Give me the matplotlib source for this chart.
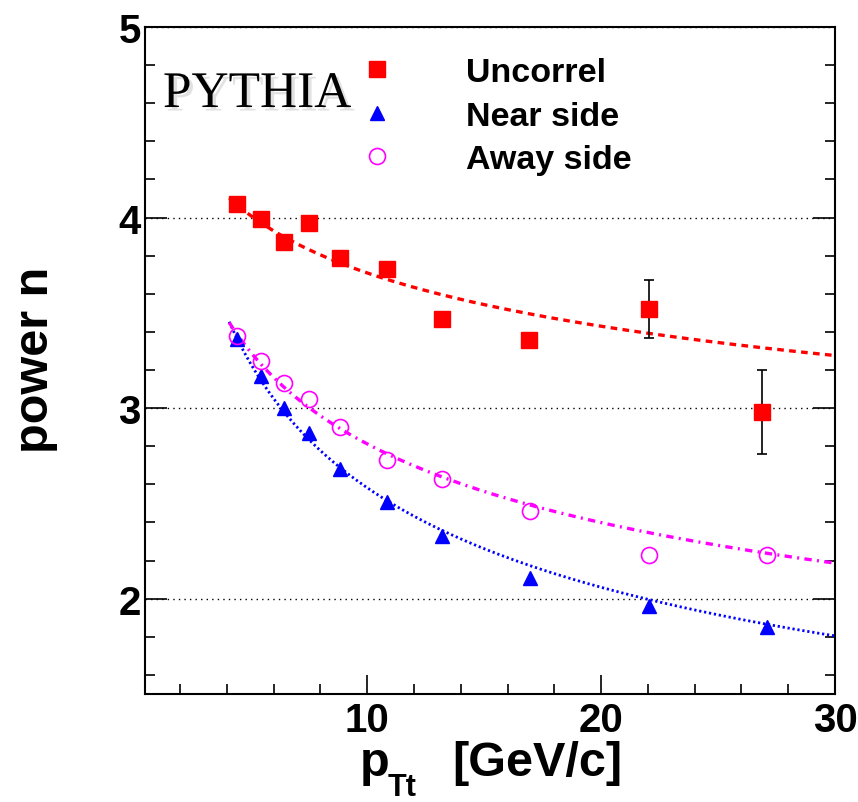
import matplotlib.pyplot as plt
import matplotlib.patheffects as pe
from matplotlib.ticker import MultipleLocator
import numpy as np

plt.rcParams['font.family'] = ['Liberation Sans', 'DejaVu Sans']
plt.rcParams['font.weight'] = 'bold'

# data
pt_uncorrel = [4.45, 5.45, 6.45, 7.5, 8.85, 10.85, 13.2, 16.9, 22.05, 26.9]
n_uncorrel = [4.07, 3.995, 3.87, 3.97, 3.79, 3.73, 3.47, 3.36, 3.52, 2.98]
err_uncorrel = [0, 0, 0, 0, 0, 0, 0, 0, 0.15, 0.22]

pt_near = [4.45, 5.45, 6.45, 7.5, 8.85, 10.85, 13.2, 16.95, 22.05, 27.1]
n_near = [3.365, 3.17, 3.0, 2.87, 2.68, 2.51, 2.33, 2.11, 1.96, 1.85]

pt_away = [4.45, 5.45, 6.45, 7.5, 8.85, 10.85, 13.2, 16.95, 22.05, 27.1]
n_away = [3.38, 3.25, 3.13, 3.05, 2.90, 2.73, 2.63, 2.46, 2.23, 2.23]

# fits n = A * pT^B
fit_uncorrel = (4.813, -0.1131)
fit_near = (5.47, -0.326)
fit_away = (4.765, -0.229)
fit_range = (4.1, 30.0)

fig = plt.figure(figsize=(8.58, 8.03), dpi=100)
ax = fig.add_axes([145 / 858, 1 - 695 / 803, 690 / 858, 667 / 803])

xf = np.linspace(fit_range[0], fit_range[1], 300)
ax.plot(xf, fit_uncorrel[0] * xf ** fit_uncorrel[1], color='#ff0000', lw=2.4,
        linestyle=(0, (2, 1.6)), zorder=2)
ax.plot(xf, fit_near[0] * xf ** fit_near[1], color='#0000ff', lw=2.0,
        linestyle=(0, (0.8, 1.0)), zorder=2)
ax.plot(xf, fit_away[0] * xf ** fit_away[1], color='#ff00ff', lw=2.4,
        linestyle=(0, (2.2, 1.6, 0.6, 1.6)), zorder=2)

err = np.array(err_uncorrel)
mask = err > 0
ax.errorbar(np.array(pt_uncorrel)[mask], np.array(n_uncorrel)[mask], yerr=err[mask],
            fmt='none', ecolor='black', elinewidth=1.2, capsize=3.3, capthick=1.2, zorder=3)

ax.plot(pt_uncorrel, n_uncorrel, 's', color='#ff0000', ms=11.5, mec='#ff0000',
        label='Uncorrel', zorder=4)
ax.plot(pt_near, n_near, '^', color='#0000ff', ms=10.5, label='Near side', zorder=4)
ax.plot(pt_away, n_away, 'o', mfc='none', mec='#ff00ff', mew=1.2, ms=11.5,
        label='Away side', zorder=5)

ax.set_xlim(0.5, 30)
ax.set_ylim(1.5, 5)
ax.set_xticks([10, 20, 30])
ax.set_yticks([2, 3, 4, 5])
ax.xaxis.set_minor_locator(MultipleLocator(2))
ax.yaxis.set_minor_locator(MultipleLocator(0.2))
ax.tick_params(which='both', direction='in', top=False, right=True, width=1.2,
               labelsize=29, colors='black')
ax.tick_params(axis='x', which='major', length=14, pad=5)
ax.tick_params(axis='y', which='major', length=16, pad=3)
ax.tick_params(which='minor', length=7)
for s in ax.spines.values():
    s.set_linewidth(1.5)

ax.yaxis.grid(True, which='major', linestyle=(0, (1, 3)), color='black', lw=1)
ax.set_axisbelow(True)

ax.legend(loc='upper left', bbox_to_anchor=(0.312, 0.955), frameon=False,
          borderpad=0, borderaxespad=0, handlelength=1.0, handletextpad=2.1,
          labelspacing=0.37, fontsize=24.5, numpoints=1)

ax.text(0.026, 0.88, 'PYTHIA', transform=ax.transAxes, fontsize=37,
        family=['Liberation Serif'], fontweight='normal', va='baseline',
        path_effects=[pe.SimplePatchShadow(offset=(2.5, -2.5), shadow_rgbFace='#888888',
                                           alpha=0.25), pe.Normal()])

fig.text(36 / 858, 1 - 360 / 803, 'power n', rotation=90, ha='center', va='center',
         fontsize=35)
fig.text(360 / 858, 1 - 776 / 803, 'p', ha='left', va='baseline', fontsize=35)
fig.text(388 / 858, 1 - 796 / 803, 'Tt', ha='left', va='baseline', fontsize=22)
fig.text(452 / 858, 1 - 776 / 803, '[GeV/c]', ha='left', va='baseline', fontsize=35)

fig.savefig('out.png', dpi=100)
